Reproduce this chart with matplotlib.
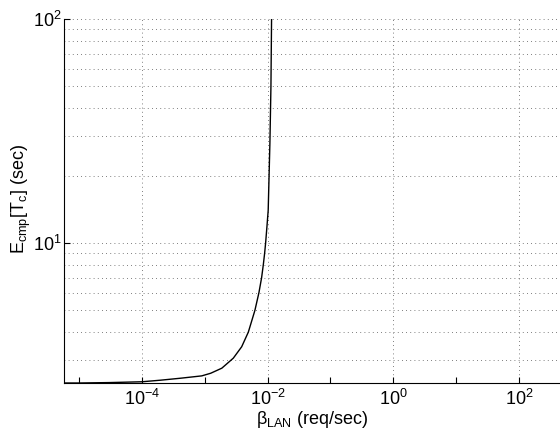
"""
Mean completion time against LAN request rate, drawn on log-log axes.
"""

import matplotlib.pyplot as plt
from matplotlib.ticker import LogLocator, NullFormatter, FixedLocator

# values
beta_lan = [5.8e-6, 1e-5, 3e-5, 1e-4, 2.0e-4, 4.16e-4, 8.97e-4, 1.245e-3,
            1.87e-3, 2.85e-3, 3.87e-3, 4.94e-3, 6.28e-3, 7.28e-3, 8.03e-3,
            8.55e-3, 8.97e-3, 9.3e-3, 9.8e-3, 1.022e-2, 1.088e-2, 1.13e-2,
            1.156e-2]
e_cmp = [2.37, 2.37, 2.38, 2.40, 2.44, 2.49, 2.55, 2.62,
         2.76, 3.06, 3.44, 4.0, 5.0, 6.0, 7.0,
         8.0, 9.0, 10.0, 12.0, 14.0, 27.9, 50.0,
         100.0]

x_major = [1e-4, 1e-2, 1e0, 1e2]
x_minor = [1e-5, 1e-3, 1e-1, 1e1]
y_major = [10, 100]

plt.rcParams["font.family"] = ["Liberation Sans", "DejaVu Sans"]
plt.rcParams["mathtext.fontset"] = "custom"
plt.rcParams["mathtext.rm"] = "Liberation Sans"
plt.rcParams["mathtext.it"] = "Liberation Sans:italic"
plt.rcParams["mathtext.default"] = "regular"


def plot_completion_time(beta, values):
    """
    Draw E_cmp[T_c] against beta_LAN.

    Args:
        beta (list): request rates
        values (list): mean completion times
    """
    fig = plt.figure(figsize=(5.6, 4.42), dpi=100)
    ax = fig.add_axes([64 / 560, 1 - 383 / 442, 1 - 64 / 560, (383 - 19) / 442])

    ax.plot(beta, values, color="black", linewidth=1.0)

    ax.set_xscale("log")
    ax.set_yscale("log")
    ax.set_xlim(5.78e-6, 447)
    ax.set_ylim(2.37, 100)

    ax.xaxis.set_major_locator(FixedLocator(x_major))
    ax.xaxis.set_minor_locator(FixedLocator(x_minor))
    ax.xaxis.set_minor_formatter(NullFormatter())
    ax.yaxis.set_major_locator(FixedLocator(y_major))
    ax.yaxis.set_minor_locator(LogLocator(base=10, subs=range(2, 10)))
    ax.yaxis.set_minor_formatter(NullFormatter())
    ax.set_xticklabels([r"$10^{-4}$", r"$10^{-2}$", r"$10^{0}$", r"$10^{2}$"])
    ax.set_yticklabels([r"$10^{1}$", r"$10^{2}$"])

    ax.tick_params(which="both", direction="in", labelsize=13, pad=4)
    ax.tick_params(axis="x", which="both", length=4, width=0.8)
    ax.tick_params(axis="y", which="major", length=4, width=0.8, pad=2)
    ax.tick_params(axis="y", which="minor", length=0)

    dots = dict(color="#555555", linestyle=(0, (1, 4)), linewidth=0.6)
    ax.grid(True, which="major", **dots)
    ax.grid(True, which="minor", axis="y", **dots)

    for side in ("top", "right"):
        ax.spines[side].set_visible(False)
    for side in ("left", "bottom"):
        ax.spines[side].set_linewidth(0.8)

    ax.set_xlabel(r"$\beta_{LAN}$ (req/sec)", fontsize=13, labelpad=0)
    fig.text(21 / 560, 1 - 199 / 442, r"$E_{cmp}[T_c]$ (sec)", rotation=90,
             ha="center", va="center", fontsize=13)

    fig.savefig("out.png", dpi=100)
    plt.close(fig)


plot_completion_time(beta_lan, e_cmp)
